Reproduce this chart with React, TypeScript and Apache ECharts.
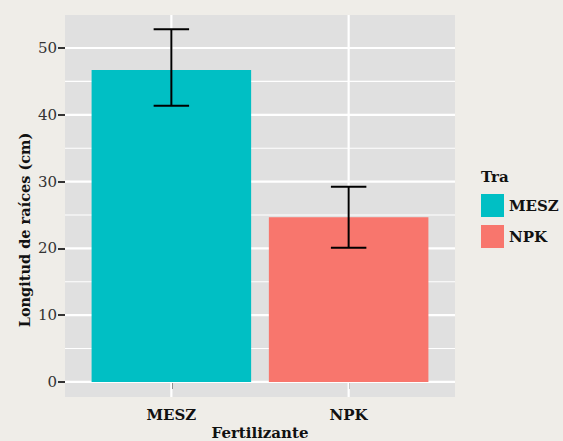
import React, { useEffect, useRef } from "react";
import * as echarts from "echarts";

const CATEGORIES = ["MESZ", "NPK"];
const MEANS = [46.7, 24.65];
const LOWER = [41.36, 20.1];
const UPPER = [52.8, 29.24];
const COLORS = ["#00BFC4", "#F8766D"];
const Y_TICKS = [0, 10, 20, 30, 40, 50];
const Y_MINOR = [5, 15, 25, 35, 45];
const X_POS = [1, 2];

const YMIN = -2.25;
const YMAX = 54.94;
const XMIN = 0.4;
const XMAX = 2.6;
const FONT = "DejaVu Serif";

export default function App() {
  const ref = useRef<HTMLDivElement>(null);
  useEffect(() => {
    if (!ref.current) return;
    const chart = echarts.init(ref.current, null, { renderer: "svg" });

    const gridData: number[][] = [];
    Y_TICKS.forEach((v) => gridData.push([0, v, 1]));
    Y_MINOR.forEach((v) => gridData.push([0, v, 0]));
    X_POS.forEach((v) => gridData.push([1, v, 1]));

    const gridSeries = {
      type: "custom",
      silent: true,
      z: 1,
      data: gridData,
      encode: { x: -1, y: -1 } as any,
      renderItem: (params: any, api: any) => {
        const kind = api.value(0);
        const v = api.value(1);
        const major = api.value(2) === 1;
        let p1, p2;
        if (kind === 0) {
          p1 = api.coord([XMIN, v]);
          p2 = api.coord([XMAX, v]);
        } else {
          p1 = api.coord([v, YMIN]);
          p2 = api.coord([v, YMAX]);
        }
        return {
          type: "line",
          shape: { x1: p1[0], y1: p1[1], x2: p2[0], y2: p2[1] },
          style: { stroke: "#FFFFFF", lineWidth: major ? 2.2 : 1.1 },
        };
      },
    };

    const barSeries = CATEGORIES.map((name, i) => ({
      type: "custom",
      name,
      z: 2,
      itemStyle: { color: COLORS[i] },
      data: [[X_POS[i], MEANS[i]]],
      renderItem: (params: any, api: any) => {
        const x = api.value(0);
        const y = api.value(1);
        const a = api.coord([x - 0.45, y]);
        const b = api.coord([x + 0.45, 0]);
        return {
          type: "rect",
          shape: { x: a[0], y: a[1], width: b[0] - a[0], height: b[1] - a[1] },
          style: { fill: COLORS[i] },
        };
      },
    }));

    const errSeries = {
      type: "custom",
      silent: true,
      z: 3,
      data: X_POS.map((x, i) => [x, LOWER[i], UPPER[i]]),
      renderItem: (params: any, api: any) => {
        const x = api.value(0);
        const lo = api.value(1);
        const hi = api.value(2);
        const top = api.coord([x, hi]);
        const bot = api.coord([x, lo]);
        const tl = api.coord([x - 0.1, hi]);
        const tr = api.coord([x + 0.1, hi]);
        const bl = api.coord([x - 0.1, lo]);
        const br = api.coord([x + 0.1, lo]);
        const st = { stroke: "#000000", lineWidth: 2 };
        return {
          type: "group",
          children: [
            { type: "line", shape: { x1: top[0], y1: top[1], x2: bot[0], y2: bot[1] }, style: st },
            { type: "line", shape: { x1: tl[0], y1: tl[1], x2: tr[0], y2: tr[1] }, style: st },
            { type: "line", shape: { x1: bl[0], y1: bl[1], x2: br[0], y2: br[1] }, style: st },
          ],
        };
      },
    };

    chart.setOption({
      animation: false,
      backgroundColor: "#EFEDE8",
      grid: {
        left: 65,
        top: 15,
        width: 390,
        height: 382,
        show: true,
        backgroundColor: "#E0E0E0",
        borderWidth: 0,
      },
      xAxis: {
        type: "value",
        min: XMIN,
        max: XMAX,
        axisLine: { show: false },
        splitLine: { show: false },
        axisTick: {
          show: true,
          customValues: X_POS,
          length: 7,
          lineStyle: { color: "#333333", width: 2 },
        },
        axisLabel: {
          customValues: X_POS,
          formatter: (v: number) => CATEGORIES[Math.round(v) - 1] ?? "",
          fontFamily: FONT,
          fontWeight: "bold",
          fontSize: 15,
          color: "#111111",
          margin: 10,
        },
      },
      yAxis: {
        type: "value",
        min: YMIN,
        max: YMAX,
        axisLine: { show: false },
        splitLine: { show: false },
        axisTick: {
          show: true,
          customValues: Y_TICKS,
          length: 7,
          lineStyle: { color: "#333333", width: 2 },
        },
        axisLabel: {
          customValues: Y_TICKS,
          fontFamily: FONT,
          fontSize: 15,
          color: "#333333",
          margin: 8,
        },
      },
      legend: {
        orient: "vertical",
        left: 481,
        top: 194,
        padding: 0,
        itemWidth: 23,
        itemHeight: 23,
        itemGap: 8,
        icon: "rect",
        data: CATEGORIES,
        textStyle: {
          fontFamily: FONT,
          fontWeight: "bold",
          fontSize: 15,
          color: "#111111",
        },
      },
      graphic: [
        {
          type: "text",
          x: 481,
          y: 177,
          style: {
            text: "Tra",
            fontFamily: FONT,
            fontWeight: "bold",
            fontSize: 15,
            fill: "#111111",
            textVerticalAlign: "middle",
          },
        },
        {
          type: "text",
          x: 260,
          y: 433,
          style: {
            text: "Fertilizante",
            fontFamily: FONT,
            fontWeight: "bold",
            fontSize: 15,
            fill: "#111111",
            textAlign: "center",
            textVerticalAlign: "middle",
          },
        },
        {
          type: "text",
          x: 24,
          y: 230,
          rotation: Math.PI / 2,
          style: {
            text: "Longitud de raíces (cm)",
            fontFamily: FONT,
            fontWeight: "bold",
            fontSize: 14.5,
            fill: "#111111",
            textAlign: "center",
            textVerticalAlign: "middle",
          },
        },
      ],
      series: [gridSeries, ...barSeries, errSeries],
    });
    return () => chart.dispose();
  }, []);

  return (
    <div
      ref={ref}
      style={{ position: "fixed", left: 0, top: 0, width: 563, height: 441 }}
    />
  );
}
